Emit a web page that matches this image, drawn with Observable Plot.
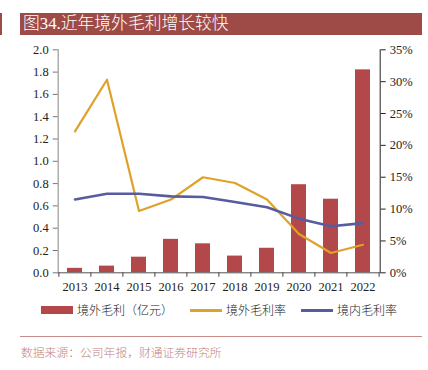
<!DOCTYPE html>
<html><head><meta charset="utf-8">
<script src="https://cdn.jsdelivr.net/npm/d3@7"></script>
<script src="https://cdn.jsdelivr.net/npm/@observablehq/plot@0.6"></script>
<style>
body{margin:0;background:#fff;width:428px;height:370px;position:relative;overflow:hidden;font-family:"Liberation Serif","Noto Sans CJK SC",serif;}
#sliver{position:absolute;left:0;top:13px;width:2px;height:22px;background:#9e4a47;}
#title{position:absolute;left:20px;top:13px;width:399px;height:22px;padding-left:3px;background:#9e4a47;color:#fff;font-size:16.8px;line-height:22px;white-space:nowrap;font-weight:300;}
#chart{position:absolute;left:0;top:40px;}
.leg{position:absolute;top:302px;font-size:12px;line-height:16px;color:#222;font-family:"Noto Sans CJK SC",sans-serif;font-weight:300;white-space:nowrap;}
.sw{position:absolute;}
#sep{position:absolute;left:20px;top:336px;width:402px;height:1px;background:#c58c8a;}
#cap{position:absolute;left:21px;top:343px;font-size:11.8px;color:#c27f7c;font-family:"Noto Sans CJK SC",sans-serif;font-weight:300;white-space:nowrap;}
</style></head>
<body>
<div id="sliver"></div>
<div id="title">图34.近年境外毛利增长较快</div>
<div id="chart"></div>
<div class="sw" style="left:41px;top:306px;width:32px;height:8px;background:#b3484a;"></div>
<div class="leg" style="left:77px;">境外毛利（亿元）</div>
<div class="sw" style="left:190px;top:309px;width:32px;height:2.5px;background:#e0a12b;"></div>
<div class="leg" style="left:226px;">境外毛利率</div>
<div class="sw" style="left:301px;top:309px;width:32px;height:2.5px;background:#575c9f;"></div>
<div class="leg" style="left:337px;">境内毛利率</div>
<div id="sep"></div>
<div id="cap">数据来源：公司年报，财通证券研究所</div>
<script>
const years = ["2013","2014","2015","2016","2017","2018","2019","2020","2021","2022"];
const overseasProfit = [0.04,0.06,0.14,0.30,0.26,0.15,0.22,0.79,0.66,1.82];
const overseasMargin = [22.2,30.3,9.7,11.5,15.0,14.1,11.5,6.1,3.1,4.4];
const domesticMargin = [11.5,12.4,12.4,12.0,11.9,11.1,10.3,8.5,7.3,7.8];
const leftTicks = [0,0.2,0.4,0.6,0.8,1.0,1.2,1.4,1.6,1.8,2.0];
const rightTicks = [0,5,10,15,20,25,30,35];

const LMAX = 2.0, RMAX = 35;
const toLeft = p => p / RMAX * LMAX;
const rows = years.map((y,i)=>({year:y, profit:overseasProfit[i], om:overseasMargin[i], dm:domesticMargin[i]}));

const W = 428, H = 256;
const mL = 57.7, mR = 48.3, mT = 9.3, mB = 23.7;
const half = (W - mL - mR) / years.length / 2;
const font = {fontFamily:"Liberation Serif, serif", fontSize:12.5, fill:"#222"};

const chart = Plot.plot({
  width: W, height: H,
  marginLeft: mL, marginRight: mR, marginTop: mT, marginBottom: mB,
  style: {fontFamily:"Liberation Serif, serif", fontSize:"12.5px", color:"#222", background:"transparent"},
  x: {type:"band", domain: years, paddingInner: 0.53, paddingOuter: 0.265, axis: null, label: null},
  y: {domain:[0, LMAX], axis: null, label: null},
  marks: [
    Plot.barY(rows, {x:"year", y:"profit", fill:"#b3484a"}),
    Plot.line(rows, {x:"year", y: d => toLeft(d.om), stroke:"#e0a12b", strokeWidth:2.2}),
    Plot.line(rows, {x:"year", y: d => toLeft(d.dm), stroke:"#575c9f", strokeWidth:2.6}),
    Plot.ruleY([0], {stroke:"#555", strokeWidth:1}),
    Plot.frame({anchor:"left", stroke:"#999", strokeWidth:1.2}),
    Plot.frame({anchor:"right", stroke:"#222", strokeWidth:1}),
    Plot.axisY({ticks: leftTicks, anchor:"left", label:null, tickSize:5, tickPadding:4.5, tickFormat: d3.format(".1f"), stroke:"#777", ...font}),
    Plot.axisY({ticks: rightTicks.map(toLeft), anchor:"right", label:null, tickSize:5, tickPadding:4.5, tickFormat: d => Math.round(d / LMAX * RMAX) + "%", stroke:"#222", ...font}),
    Plot.axisX({ticks: years, anchor:"bottom", label:null, tickSize:0, tickPadding:9, ...font}),
    Plot.axisX({ticks: years, anchor:"bottom", label:null, tickSize:4.5, text:null, dx:-half, stroke:"#444"}),
    Plot.axisX({ticks: [years[years.length-1]], anchor:"bottom", label:null, tickSize:4.5, text:null, dx:half, stroke:"#444"})
  ]
});
document.getElementById("chart").appendChild(chart);
</script>
</body></html>
